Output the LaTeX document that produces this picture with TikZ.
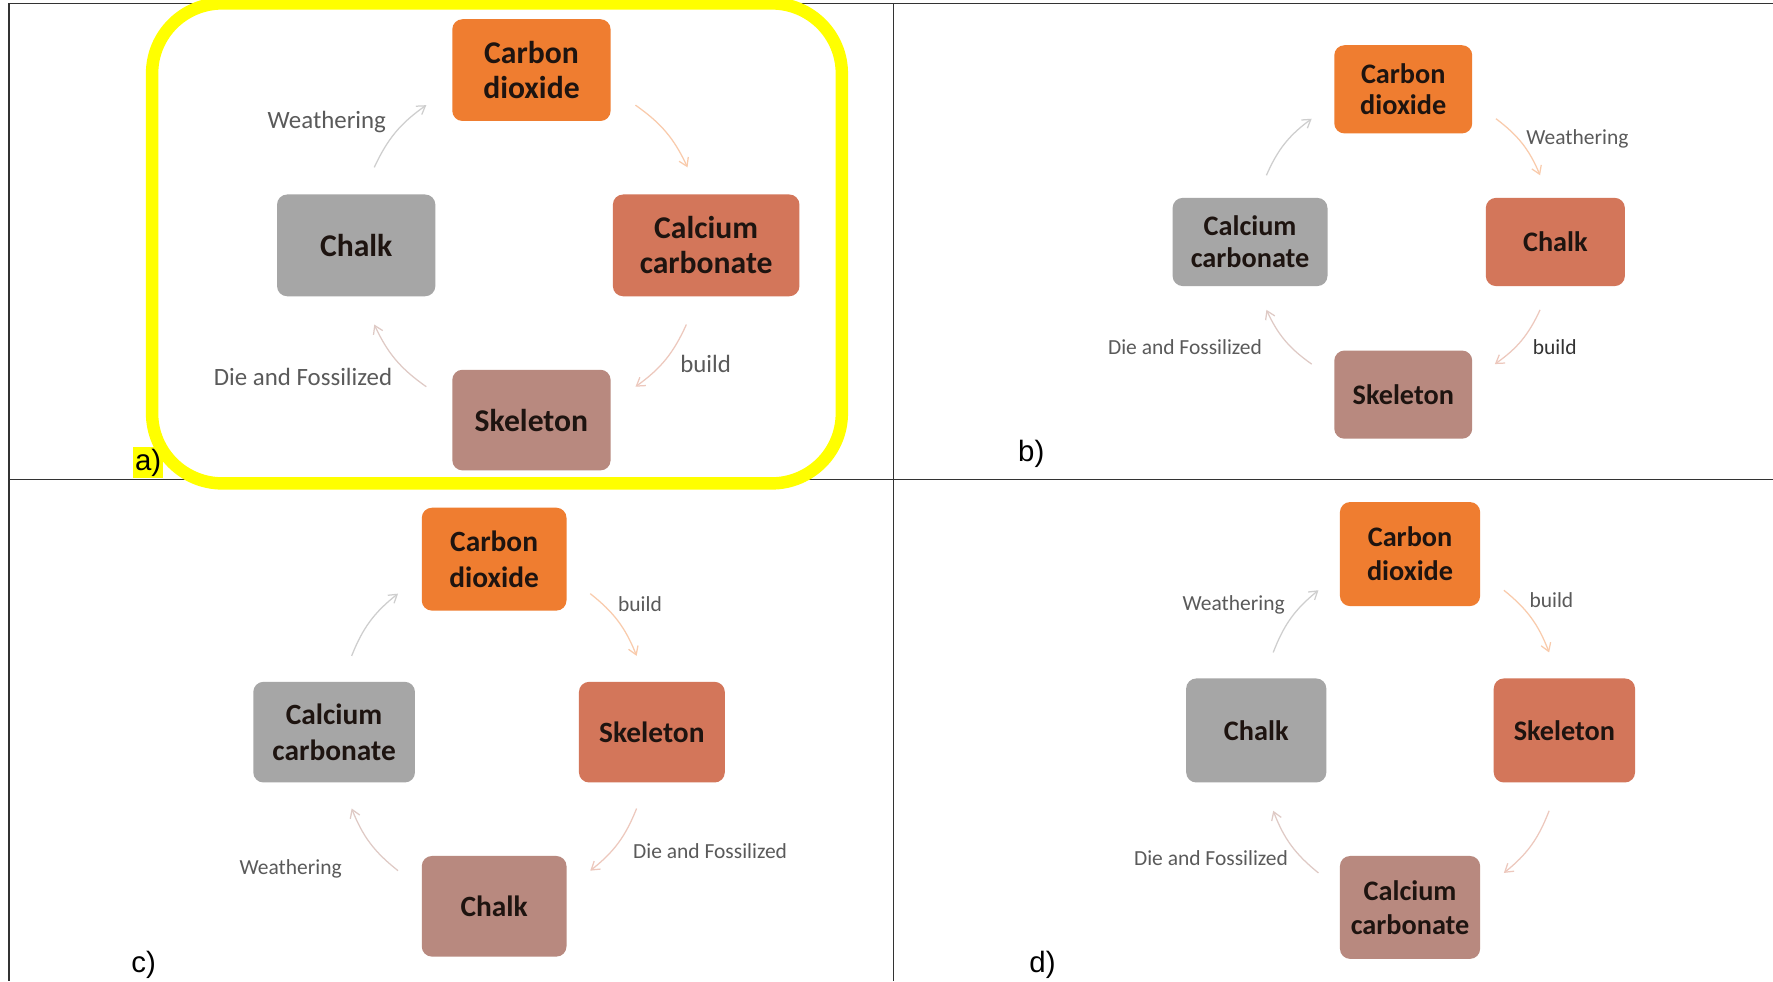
\documentclass[tikz,border=0pt]{standalone}
\usepackage{fontspec}
\setmainfont{Carlito}
\newfontfamily\arialf{Liberation Sans}
\usetikzlibrary{arrows.meta}
\definecolor{co2c}{HTML}{EF7D30}
\definecolor{terra}{HTML}{D3765A}
\definecolor{greyc}{HTML}{A6A6A6}
\definecolor{rosy}{HTML}{B8897F}
\definecolor{boxtext}{HTML}{1E1410}
\definecolor{labtext}{HTML}{5A5A5A}
\definecolor{rulec}{HTML}{333333}
\definecolor{hiyel}{HTML}{FFFF00}
\begin{document}
\begin{tikzpicture}[x=1pt,y=-1pt,
  box/.style={rectangle, rounded corners=9pt, inner sep=0pt, align=center, text=boxtext},
  fa/.style={font=\fontsize{28}{31}\selectfont\bfseries},
  fb/.style={font=\fontsize{25}{28}\selectfont\bfseries},
  fc/.style={font=\fontsize{26}{32}\selectfont\bfseries},
  fd/.style={font=\fontsize{25}{30}\selectfont\bfseries},
  lab/.style={text=labtext, inner sep=0pt},
  laba/.style={lab, font=\fontsize{22}{24}\selectfont},
  labb/.style={lab, font=\fontsize{19}{21}\selectfont},
  conn/.style={-{Straight Barb[length=7pt,width=9pt]}, line width=1.1pt, bend left=15},
  panel/.style={font=\arialf\fontsize{26}{28}\selectfont, inner sep=1.5pt},
  rule/.style={draw=rulec, line width=1.4pt}]
\useasboundingbox (0,0) rectangle (1568,868);
\fill[white] (0,0) rectangle (1568,868);
% table rules
\draw[rule] (8,3) -- (1568,3);
\draw[rule] (8,3) -- (8,868);
\draw[rule] (790,3) -- (790,868);
\draw[rule] (8,424) -- (1568,424);

% ---------------- panel a
\node[box, fa, fill=co2c, minimum width=140, minimum height=90] (aco2) at (470,62) {Carbon\\dioxide};
\node[box, fa, fill=terra, minimum width=165, minimum height=90] (acc) at (624.5,217) {Calcium\\carbonate};
\node[box, fa, fill=greyc, minimum width=140, minimum height=90] (achalk) at (315,217) {Chalk};
\node[box, fa, fill=rosy, minimum width=140, minimum height=89] (askel) at (470,371.5) {Skeleton};
\coordinate (a1s) at (562,93);  \coordinate (a1e) at (608,148);
\coordinate (a2s) at (607,287); \coordinate (a2e) at (562,342);
\coordinate (a3s) at (377,342); \coordinate (a3e) at (331,287);
\coordinate (a4s) at (331,148); \coordinate (a4e) at (377,93);
\draw[conn, draw=co2c!40] (a1s) to (a1e);
\draw[conn, draw=terra!40] (a2s) to (a2e);
\draw[conn, draw=rosy!45] (a3s) to (a3e);
\draw[conn, draw=greyc!55] (a4s) to (a4e);
\node[laba] (aw) at (289,108) {Weathering};
\node[laba] (ab) at (624,322) {build};
\node[laba] (ad) at (268,333) {Die and Fossilized};
\draw[draw=hiyel, line width=11pt, rounded corners=62pt] (134.5,3) rectangle (744.5,427.5);
\node[panel, fill=hiyel] (pa) at (131,409) {a)};

% ---------------- panel b
\node[box, fb, fill=co2c, minimum width=122, minimum height=78] (bco2) at (1241,79) {Carbon\\dioxide};
\node[box, fb, fill=terra, minimum width=123, minimum height=78] (bchalk) at (1375.5,214) {Chalk};
\node[box, fb, fill=greyc, minimum width=137, minimum height=78] (bcc) at (1105.5,214) {Calcium\\carbonate};
\node[box, fb, fill=rosy, minimum width=122, minimum height=78] (bskel) at (1241,349) {Skeleton};
\coordinate (b1s) at (1323,105); \coordinate (b1e) at (1362,155);
\coordinate (b2s) at (1362,274); \coordinate (b2e) at (1322,322);
\coordinate (b3s) at (1160,322); \coordinate (b3e) at (1120,274);
\coordinate (b4s) at (1120,155); \coordinate (b4e) at (1160,105);
\draw[conn, draw=co2c!40] (b1s) to (b1e);
\draw[conn, draw=terra!40] (b2s) to (b2e);
\draw[conn, draw=rosy!45] (b3s) to (b3e);
\draw[conn, draw=greyc!55] (b4s) to (b4e);
\node[labb] (bw) at (1395,123) {Weathering};
\node[labb, text=black!80] (bb) at (1375,307) {build};
\node[labb] (bd) at (1048,307) {Die and Fossilized};
\node[panel] (pb) at (912,401) {b)};

% ---------------- panel c
\node[box, fc, fill=co2c, minimum width=128, minimum height=91] (cco2) at (437,494.5) {Carbon\\dioxide};
\node[box, fc, fill=terra, minimum width=129, minimum height=89] (cskel) at (576.5,647.5) {Skeleton};
\node[box, fc, fill=greyc, minimum width=143, minimum height=89] (ccc) at (295.5,647.5) {Calcium\\carbonate};
\node[box, fc, fill=rosy, minimum width=128, minimum height=89] (cchalk) at (437,801.5) {Chalk};
\coordinate (c1s) at (522,525); \coordinate (c1e) at (563,580);
\coordinate (c2s) at (563,715); \coordinate (c2e) at (522,770);
\coordinate (c3s) at (352,770); \coordinate (c3e) at (311,715);
\coordinate (c4s) at (311,580); \coordinate (c4e) at (352,525);
\draw[conn, draw=co2c!40] (c1s) to (c1e);
\draw[conn, draw=terra!40] (c2s) to (c2e);
\draw[conn, draw=rosy!45] (c3s) to (c3e);
\draw[conn, draw=greyc!55] (c4s) to (c4e);
\node[labb] (cb) at (566,534) {build};
\node[labb] (cd) at (628,753) {Die and Fossilized};
\node[labb] (cw) at (257,768) {Weathering};
\node[panel] (pc) at (127,853) {c)};

% ---------------- panel d
\node[box, fd, fill=co2c, minimum width=124, minimum height=92] (dco2) at (1247,490) {Carbon\\dioxide};
\node[box, fd, fill=terra, minimum width=125, minimum height=92] (dskel) at (1383.5,646) {Skeleton};
\node[box, fd, fill=greyc, minimum width=124, minimum height=92] (dchalk) at (1111,646) {Chalk};
\node[box, fd, fill=rosy, minimum width=124, minimum height=91] (dcc) at (1247,802.5) {Calcium\\carbonate};
\coordinate (d1s) at (1330,522); \coordinate (d1e) at (1370,577);
\coordinate (d2s) at (1370,717); \coordinate (d2e) at (1330,772);
\coordinate (d3s) at (1166,772); \coordinate (d3e) at (1126,717);
\coordinate (d4s) at (1126,577); \coordinate (d4e) at (1166,522);
\draw[conn, draw=co2c!40] (d1s) to (d1e);
\draw[conn, draw=terra!40] (d2s) to (d2e);
\draw[conn, draw=rosy!45] (d3s) to (d3e);
\draw[conn, draw=greyc!55] (d4s) to (d4e);
\node[labb] (dw) at (1091,535) {Weathering};
\node[labb] (db) at (1372,531) {build};
\node[labb] (dd) at (1071,759) {Die and Fossilized};
\node[panel] (pd) at (922,853) {d)};
\end{tikzpicture}
\end{document}
